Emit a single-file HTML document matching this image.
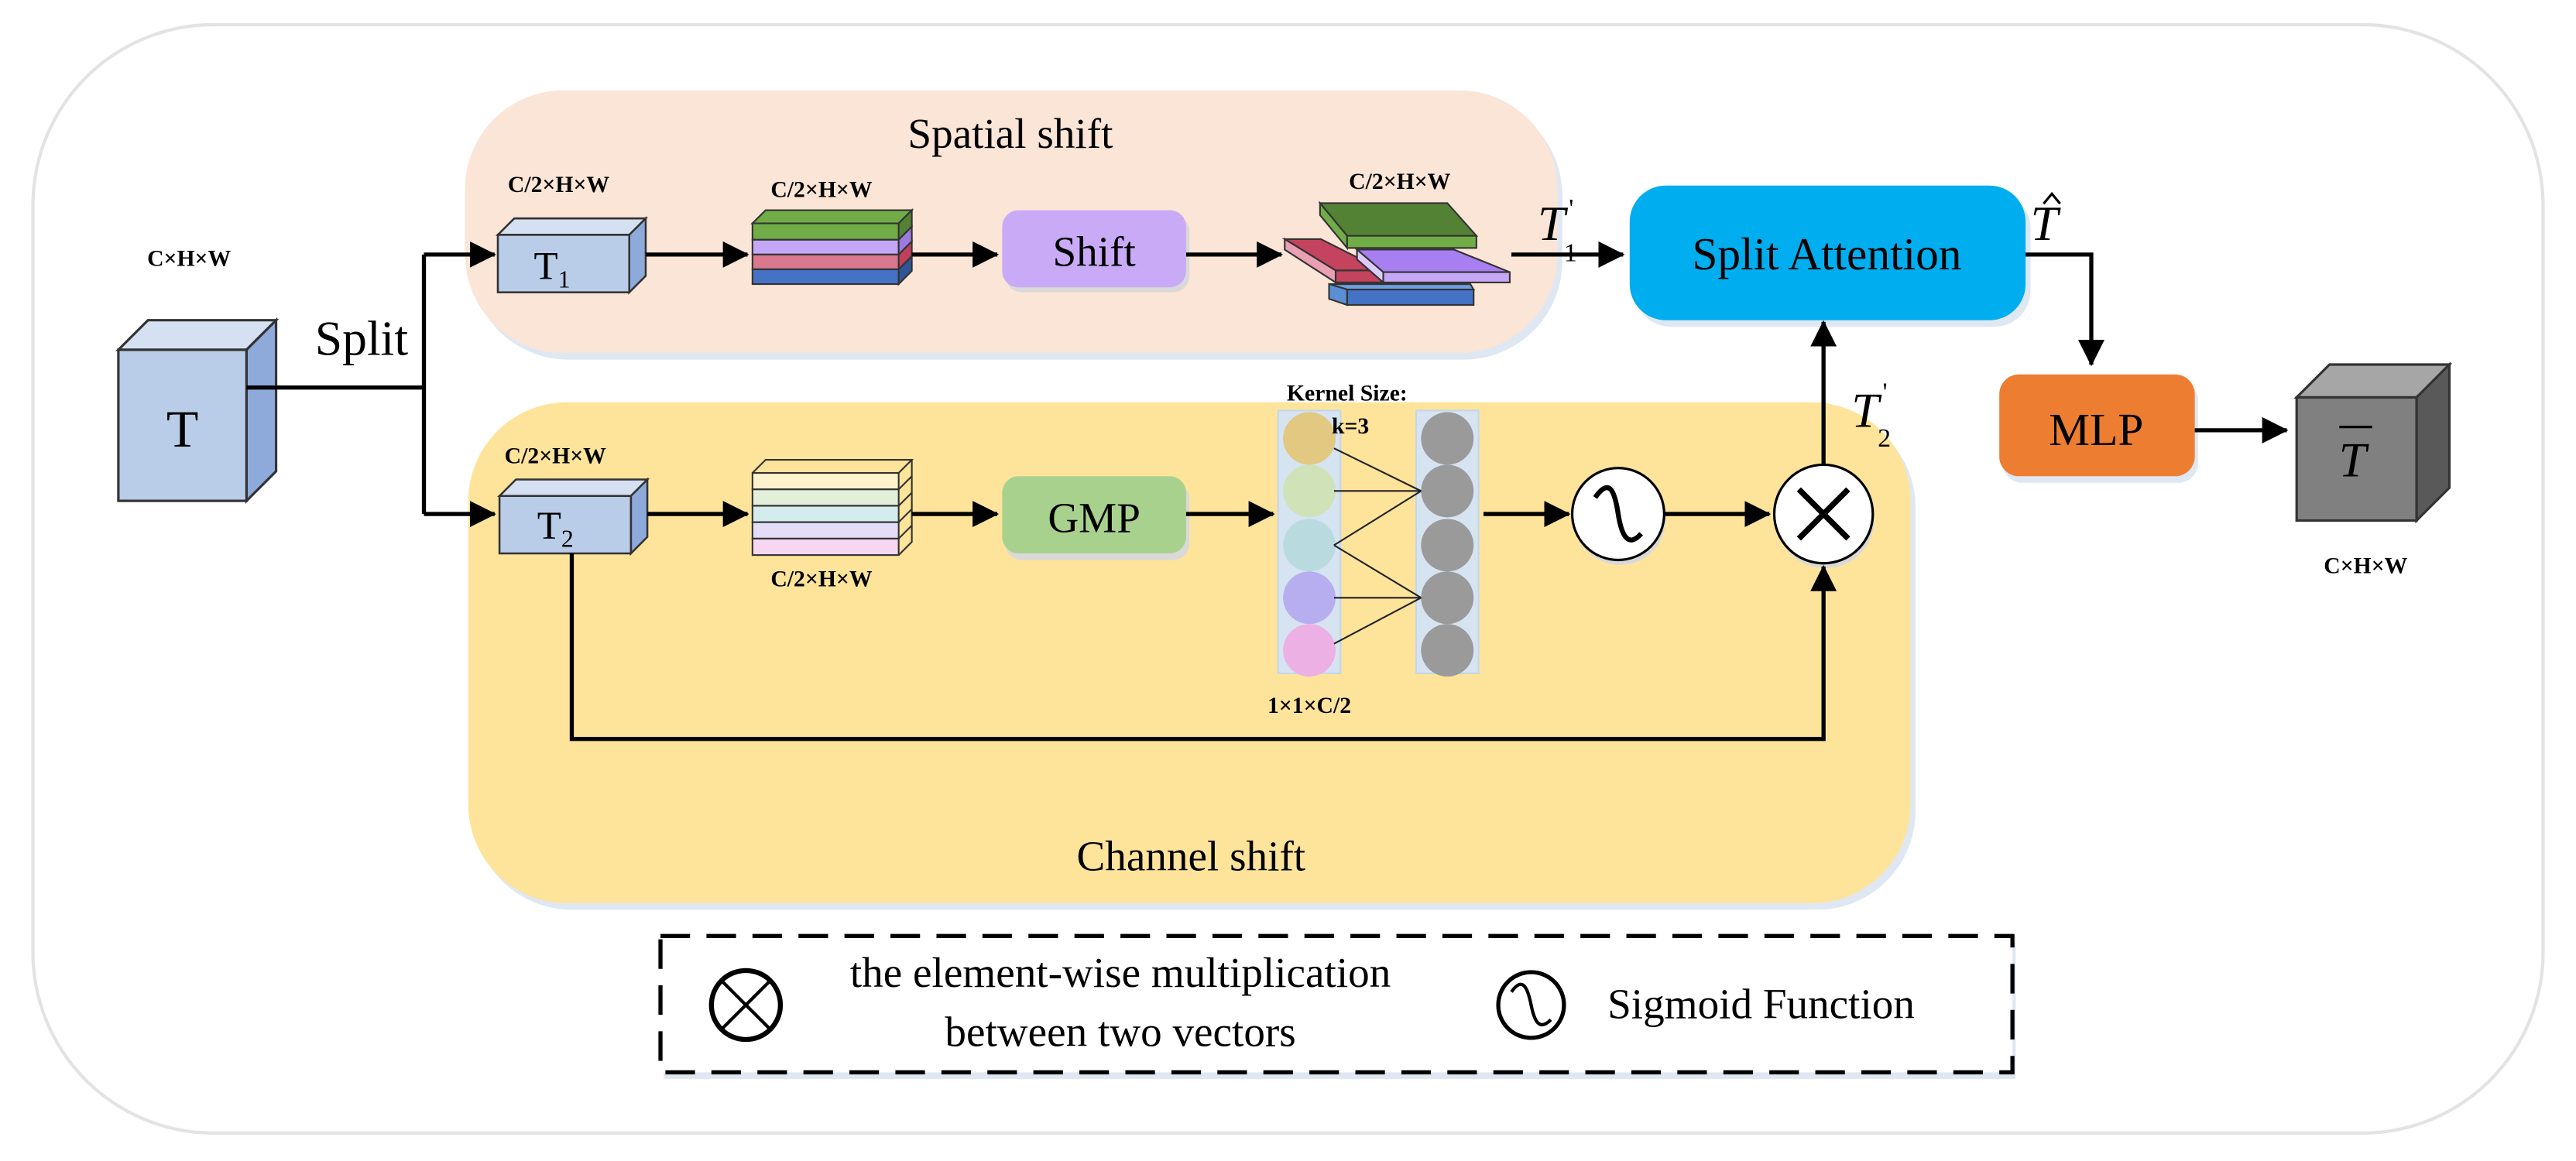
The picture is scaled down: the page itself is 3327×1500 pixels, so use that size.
<!DOCTYPE html>
<html><head><meta charset="utf-8"><style>
html,body{margin:0;padding:0;background:#fff}
svg{display:block}
svg text{font-family:"Liberation Serif","DejaVu Serif",serif;fill:#000}
.b{font-weight:bold;font-size:14px}
</style></head><body>
<svg width="3327" height="1500" viewBox="0 0 1568 707" xmlns="http://www.w3.org/2000/svg" font-family="Liberation Serif, serif">
<defs>
<marker id="A" markerWidth="16" markerHeight="16" refX="15" refY="8" orient="auto" markerUnits="userSpaceOnUse"><path d="M0,0 L16,8 L0,16 z" fill="#000"/></marker>
</defs>
<rect x="20" y="15" width="1528" height="675" rx="110" fill="#fff" stroke="#e3e3e3" stroke-width="2"/>
<!-- spatial box -->
<rect x="286" y="59" width="665" height="160" rx="60" fill="#dfe7f3"/>
<rect x="283" y="55" width="665" height="160" rx="60" fill="#fbe5d6"/>
<text x="615" y="90" font-size="26" text-anchor="middle">Spatial shift</text>
<!-- channel box -->
<rect x="288" y="249" width="878" height="305" rx="60" fill="#dfe7f3"/>
<rect x="285" y="245" width="878" height="305" rx="60" fill="#fde49a"/>
<text x="725" y="530" font-size="26" text-anchor="middle">Channel shift</text>
<!-- T cube -->
<polygon points="72,213 90,195 168,195 150,213" fill="#d5e1f2" stroke="#333" stroke-width="1.5"/>
<polygon points="150,213 168,195 168,287 150,305" fill="#8eaadb" stroke="#333" stroke-width="1.5"/>
<rect x="72" y="213" width="78" height="92" fill="#b9cde9" stroke="#333" stroke-width="1.5"/>
<text x="111" y="272" font-size="32" text-anchor="middle">T</text>
<text x="115" y="162" class="b" text-anchor="middle">C×H×W</text>
<text x="220" y="216" font-size="30" text-anchor="middle">Split</text>
<polyline points="150,236 258,236" fill="none" stroke="#000" stroke-width="2.5"/>
<polyline points="258,155 258,313" fill="none" stroke="#000" stroke-width="2.5"/>
<line x1="258" y1="155" x2="301" y2="155" stroke="#000" stroke-width="2.5" marker-end="url(#A)"/>
<line x1="258" y1="313" x2="301" y2="313" stroke="#000" stroke-width="2.5" marker-end="url(#A)"/>
<!-- T1 -->
<polygon points="303,143 313,133 393,133 383,143" fill="#d5e1f2" stroke="#333" stroke-width="1.2"/>
<polygon points="383,143 393,133 393,168 383,178" fill="#8eaadb" stroke="#333" stroke-width="1.2"/>
<rect x="303" y="143" width="80" height="35" fill="#b9cde9" stroke="#333" stroke-width="1.2"/>
<text x="336" y="170" font-size="24" text-anchor="middle">T<tspan font-size="15" dy="5">1</tspan></text>
<text x="340" y="117" class="b" text-anchor="middle">C/2×H×W</text>
<!-- T2 -->
<polygon points="304,302 314,292 394,292 384,302" fill="#d5e1f2" stroke="#333" stroke-width="1.2"/>
<polygon points="384,302 394,292 394,327 384,337" fill="#8eaadb" stroke="#333" stroke-width="1.2"/>
<rect x="304" y="302" width="80" height="35" fill="#b9cde9" stroke="#333" stroke-width="1.2"/>
<text x="338" y="328" font-size="24" text-anchor="middle">T<tspan font-size="15" dy="5">2</tspan></text>
<text x="338" y="282" class="b" text-anchor="middle">C/2×H×W</text>
<line x1="393" y1="155" x2="455" y2="155" stroke="#000" stroke-width="2.5" marker-end="url(#A)"/>
<line x1="394" y1="313" x2="455" y2="313" stroke="#000" stroke-width="2.5" marker-end="url(#A)"/>
<!-- stacked layers top -->
<g stroke="#333" stroke-width="1">
<polygon points="458,136 466,128 555,128 547,136" fill="#70ad47"/>
<rect x="458" y="136" width="89" height="10" fill="#70ad47"/>
<polygon points="547,136 555,128 555,138 547,146" fill="#548235"/>
<rect x="458" y="146" width="89" height="9" fill="#c5a8f5"/>
<polygon points="547,146 555,138 555,147 547,155" fill="#9b7be0"/>
<rect x="458" y="155" width="89" height="9" fill="#d9788f"/>
<polygon points="547,155 555,147 555,156 547,164" fill="#c0405c"/>
<rect x="458" y="164" width="89" height="9" fill="#4472c4"/>
<polygon points="547,164 555,156 555,165 547,173" fill="#2f5597"/>
</g>
<text x="500" y="120" class="b" text-anchor="middle">C/2×H×W</text>
<line x1="555" y1="155" x2="607" y2="155" stroke="#000" stroke-width="2.5" marker-end="url(#A)"/>
<rect x="612" y="131" width="112" height="47" rx="10" fill="#d9d9d9"/>
<rect x="610" y="128" width="112" height="47" rx="10" fill="#c9aaf7"/>
<text x="666" y="162" font-size="26" text-anchor="middle">Shift</text>
<line x1="722" y1="155" x2="780" y2="155" stroke="#000" stroke-width="2.5" marker-end="url(#A)"/>
<!-- scattered layers -->
<g stroke="#333" stroke-width="1">
<polygon points="809,173 895,173 897,176.3 820,176.3" fill="#6f9de0"/>
<polygon points="809,173 820,176.3 820,185.7 809,182" fill="#5a8fd6"/>
<rect x="820" y="176.3" width="77" height="9.4" fill="#4472c4"/>
<polygon points="782,145.6 804,145.6 842,164.7 813,164.7" fill="#c4435e"/>
<polygon points="782,145.6 813,164.7 813,172 782,152" fill="#eaa0b2"/>
<rect x="813" y="164.7" width="29" height="7.3" fill="#c4435e"/>
<polygon points="826,152 885,152 919,165.7 842,165.7" fill="#a77ff0"/>
<polygon points="826,152 842,165.7 842,172 826,158" fill="#ddccfb"/>
<rect x="842" y="165.7" width="77" height="6.3" fill="#c5a8f5"/>
<polygon points="803.5,123.7 881,123.7 898.7,143.6 820,143.6" fill="#548235"/>
<polygon points="803.5,123.7 820,143.6 820,151 803.5,131" fill="#70ad47"/>
<rect x="820" y="143.6" width="78.7" height="7.4" fill="#70ad47"/>
</g>
<text x="852" y="115" class="b" text-anchor="middle">C/2×H×W</text>
<line x1="920" y1="155" x2="988" y2="155" stroke="#000" stroke-width="2.5" marker-end="url(#A)"/>
<text x="936" y="146" font-size="30" font-style="italic">T</text>
<text x="952" y="159" font-size="16">1</text><text x="955" y="132" font-size="16">'</text>
<!-- split attention -->
<rect x="995" y="117" width="241" height="82" rx="22" fill="#dfe7f3"/>
<rect x="992" y="113" width="241" height="82" rx="22" fill="#00aeef"/>
<text x="1112" y="164" font-size="28" text-anchor="middle">Split Attention</text>
<text x="1236" y="146" font-size="30" font-style="italic">T</text>
<polyline points="1244,124 1249,118 1254,124" fill="none" stroke="#000" stroke-width="1.5"/>
<polyline points="1233,155 1273,155 1273,222" fill="none" stroke="#000" stroke-width="2.5" marker-end="url(#A)"/>
<rect x="1219" y="232" width="119" height="62" rx="12" fill="#dfe7f3"/>
<rect x="1217" y="228" width="119" height="62" rx="12" fill="#ed7d31"/>
<text x="1276" y="271" font-size="28" text-anchor="middle">MLP</text>
<line x1="1336" y1="262" x2="1392" y2="262" stroke="#000" stroke-width="2.5" marker-end="url(#A)"/>
<!-- gray cube -->
<polygon points="1398,242 1418,222 1491,222 1471,242" fill="#a6a6a6" stroke="#333" stroke-width="1.5"/>
<polygon points="1471,242 1491,222 1491,297 1471,317" fill="#595959" stroke="#333" stroke-width="1.5"/>
<rect x="1398" y="242" width="73" height="75" fill="#808080" stroke="#333" stroke-width="1.5"/>
<text x="1432" y="290" font-size="30" font-style="italic" text-anchor="middle">T</text>
<line x1="1424" y1="260" x2="1444" y2="260" stroke="#000" stroke-width="1.5"/>
<text x="1440" y="349" class="b" text-anchor="middle">C×H×W</text>
<!-- channel layers -->
<g stroke="#333" stroke-width="1" fill="none">
<rect x="458" y="288" width="89" height="10" fill="#fff2cc"/>
<rect x="458" y="298" width="89" height="10" fill="#e2f0d9"/>
<rect x="458" y="308" width="89" height="10" fill="#d5ecee"/>
<rect x="458" y="318" width="89" height="10" fill="#e5dcf8"/>
<rect x="458" y="328" width="89" height="10" fill="#f6d6f0"/>
<polyline points="458,288 466,280 555,280 547,288"/>
<polyline points="555,280 555,330 547,338"/>
<line x1="547" y1="298" x2="555" y2="290"/><line x1="547" y1="308" x2="555" y2="300"/>
<line x1="547" y1="318" x2="555" y2="310"/><line x1="547" y1="328" x2="555" y2="320"/>
</g>
<text x="500" y="357" class="b" text-anchor="middle">C/2×H×W</text>
<line x1="555" y1="313" x2="607" y2="313" stroke="#000" stroke-width="2.5" marker-end="url(#A)"/>
<rect x="612" y="294" width="112" height="47" rx="10" fill="#d9d9d9"/>
<rect x="610" y="290" width="112" height="47" rx="10" fill="#a9d18e"/>
<text x="666" y="324" font-size="26" text-anchor="middle">GMP</text>
<line x1="722" y1="313" x2="775" y2="313" stroke="#000" stroke-width="2.5" marker-end="url(#A)"/>
<!-- columns -->
<rect x="778" y="250" width="38" height="160" fill="#d6e4f2" stroke="#c5d6ea"/>
<rect x="862" y="250" width="38" height="160" fill="#d6e4f2" stroke="#c5d6ea"/>
<circle cx="797" cy="267" r="16" fill="#e2c880"/>
<circle cx="797" cy="299" r="16" fill="#cfe2b8"/>
<circle cx="797" cy="332" r="16" fill="#b9dbe0"/>
<circle cx="797" cy="364" r="16" fill="#b7aef0"/>
<circle cx="797" cy="396" r="16" fill="#ecb0e4"/>
<g fill="#9a9a9a"><circle cx="881" cy="267" r="16"/><circle cx="881" cy="299" r="16"/><circle cx="881" cy="332" r="16"/><circle cx="881" cy="364" r="16"/><circle cx="881" cy="396" r="16"/></g>
<g stroke="#222" stroke-width="1">
<line x1="812" y1="273" x2="865" y2="299"/><line x1="812" y1="299" x2="865" y2="299"/><line x1="812" y1="332" x2="865" y2="299"/>
<line x1="812" y1="332" x2="865" y2="364"/><line x1="812" y1="364" x2="865" y2="364"/><line x1="812" y1="392" x2="865" y2="364"/>
</g>
<text x="820" y="244" class="b" text-anchor="middle">Kernel Size:</text>
<text x="822" y="264" class="b" text-anchor="middle">k=3</text>
<text x="797" y="434" class="b" text-anchor="middle">1×1×C/2</text>
<line x1="903" y1="313" x2="955" y2="313" stroke="#000" stroke-width="2.5" marker-end="url(#A)"/>
<circle cx="986" cy="316" r="28" fill="#d9d9d9"/>
<circle cx="985" cy="313" r="28" fill="#fff" stroke="#000" stroke-width="1.5"/>
<path d="M971,303 C980,290 983,300 985,313 C987,326 991,334 999,325" fill="none" stroke="#000" stroke-width="3"/>
<line x1="1013" y1="313" x2="1077" y2="313" stroke="#000" stroke-width="2.5" marker-end="url(#A)"/>
<circle cx="1111" cy="316" r="30" fill="#d9d9d9"/>
<circle cx="1110" cy="313" r="30" fill="#fff" stroke="#000" stroke-width="1.5"/>
<line x1="1095" y1="298" x2="1125" y2="328" stroke="#000" stroke-width="3.5"/>
<line x1="1125" y1="298" x2="1095" y2="328" stroke="#000" stroke-width="3.5"/>
<line x1="1110" y1="283" x2="1110" y2="196" stroke="#000" stroke-width="2.5" marker-end="url(#A)"/>
<text x="1127" y="260" font-size="30" font-style="italic">T</text>
<text x="1143" y="272" font-size="16">2</text><text x="1146" y="244" font-size="16">'</text>
<polyline points="348,337 348,450 1110,450 1110,345" fill="none" stroke="#000" stroke-width="2.5" marker-end="url(#A)"/>
<!-- legend -->
<rect x="404" y="574" width="823" height="83" fill="#dfe7f3"/>
<rect x="402" y="570" width="823" height="83" fill="#fff" stroke="#000" stroke-width="2.5" stroke-dasharray="18,10"/>
<circle cx="454" cy="612" r="21" fill="#fff" stroke="#000" stroke-width="3"/>
<line x1="440" y1="598" x2="468" y2="626" stroke="#000" stroke-width="2"/>
<line x1="468" y1="598" x2="440" y2="626" stroke="#000" stroke-width="2"/>
<text x="682" y="601" font-size="26" text-anchor="middle">the element-wise multiplication</text>
<text x="682" y="637" font-size="26" text-anchor="middle">between two vectors</text>
<circle cx="932" cy="612" r="20" fill="#fff" stroke="#000" stroke-width="2.5"/>
<path d="M920,604 C927,594 930,602 932,612 C934,622 937,628 944,621" fill="none" stroke="#000" stroke-width="2"/>
<text x="1072" y="620" font-size="26" text-anchor="middle">Sigmoid Function</text>
</svg>
</body></html>
